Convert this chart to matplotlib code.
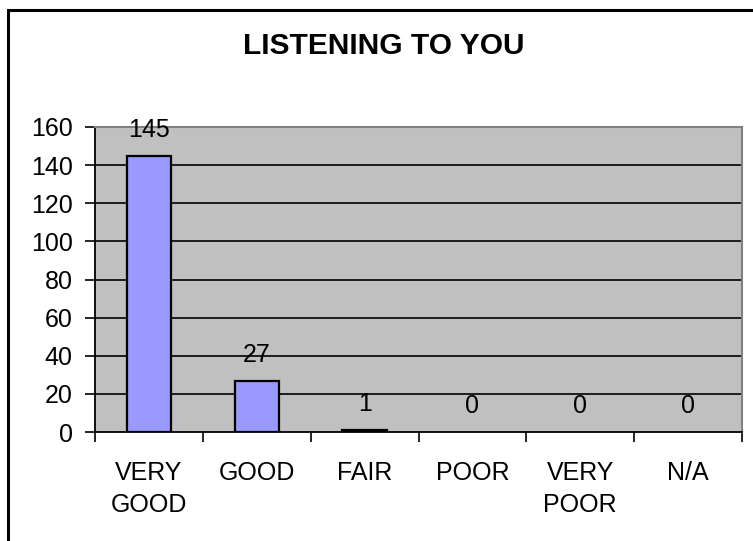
import matplotlib
matplotlib.use("Agg")
import matplotlib.pyplot as plt
from matplotlib.patches import Rectangle

categories = ["VERY\nGOOD", "GOOD", "FAIR", "POOR", "VERY\nPOOR", "N/A"]
values = [145, 27, 1, 0, 0, 0]
yticks = [0, 20, 40, 60, 80, 100, 120, 140, 160]
title = "LISTENING TO YOU"

plt.rcParams['font.family'] = ['Liberation Sans', 'DejaVu Sans']

fig = plt.figure(figsize=(7.53, 5.41), dpi=100)
fig.patch.set_facecolor('white')
# outer chart border (right/bottom run off the image)
fig.patches.append(Rectangle((7.5/753, -0.05), 1.2, 1 - 9.5/541 + 0.05,
                             transform=fig.transFigure, fill=False,
                             edgecolor='black', linewidth=2.2))

ax = fig.add_axes([95/753, 1 - 432/541, 647/753, 305/541])
ax.set_facecolor('#C0C0C0')
x = list(range(len(categories)))
edge = ['black' if v > 0 else 'none' for v in values]
bars = ax.bar(x, values, width=0.41, color='#9999FF', edgecolor=edge,
              linewidth=1.6, zorder=3)
ax.set_xlim(-0.5, len(categories) - 0.5)
ax.set_ylim(0, 160)
ax.set_yticks(yticks)
ax.set_yticklabels([str(t) for t in yticks], fontsize=18)
for t in yticks[1:-1]:
    ax.axhline(t, color='black', linewidth=1.2, zorder=2)

ax.set_xticks(x)
ax.set_xticklabels(categories, fontsize=18, linespacing=1.4)
ax.tick_params(axis='x', which='major', length=0, pad=21)
ax.set_xticks([i - 0.5 for i in range(len(categories) + 1)], minor=True)
ax.tick_params(axis='x', which='minor', length=7, width=1.2, direction='out')
ax.tick_params(axis='y', length=7, width=1.2, direction='out', pad=9)

for s in ['top', 'right']:
    ax.spines[s].set_color('#808080')
    ax.spines[s].set_linewidth(1.5)
for s in ['left', 'bottom']:
    ax.spines[s].set_color('black')
    ax.spines[s].set_linewidth(1.3)

for xi, v in zip(x, values):
    ax.annotate(str(v), (xi, v), xytext=(0, 10), textcoords='offset points',
                ha='center', va='bottom', fontsize=18, zorder=5)

fig.text(383.5/753, 1 - 46/541, title, ha='center', va='center',
         fontsize=21.5, fontweight='bold')

fig.savefig('out.png', dpi=100)
